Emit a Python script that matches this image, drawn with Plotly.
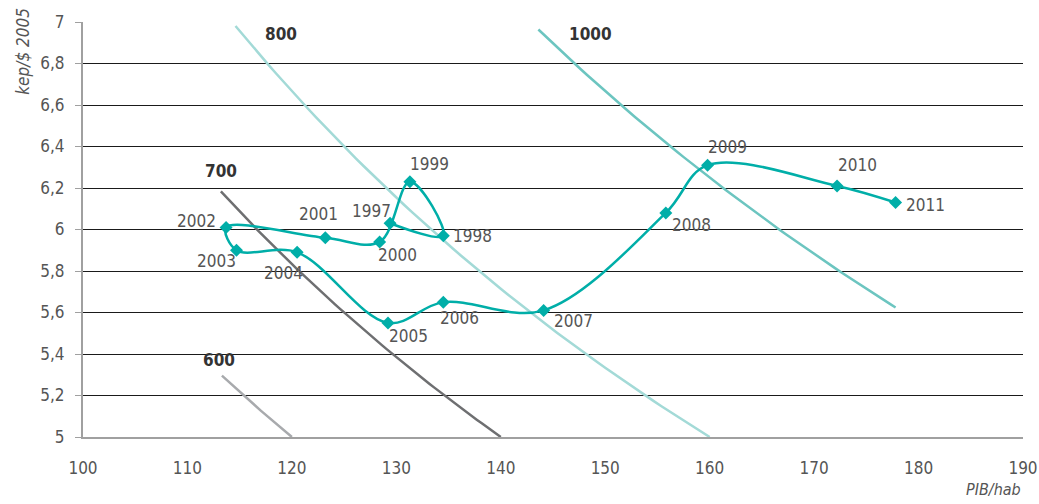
import numpy as np
import plotly.graph_objects as go

# ---- data ----
years = ["1997", "1998", "1999", "2000", "2001", "2002", "2003", "2004",
         "2005", "2006", "2007", "2008", "2009", "2010", "2011"]
pib_hab = [129.4, 134.5, 131.3, 128.4, 123.2, 113.7, 114.7, 120.5,
           129.2, 134.5, 144.1, 155.8, 159.8, 172.2, 177.8]
kep = [6.03, 5.97, 6.23, 5.94, 5.96, 6.01, 5.90, 5.89,
       5.55, 5.65, 5.61, 6.08, 6.31, 6.21, 6.13]

iso_levels = [600, 700, 800, 1000]
iso_x_start = [113.3, 113.2, 114.6, 143.6]
iso_x_end = [120.0, 140.0, 160.0, 177.8]

# ---- styles ----
FONT = "DejaVu Sans Condensed, Liberation Sans Narrow, Roboto Condensed, Roboto, sans-serif"
TEAL = "#00AEA8"
iso_colors = {600: "#A8AAAD", 700: "#6E6F71", 800: "#A3DAD7", 1000: "#6CC5C0"}
iso_label_pos = {600: (113.0, 5.37), 700: (113.2, 6.28), 800: (119.0, 6.94), 1000: (148.6, 6.94)}
label_shift = {
    "1997": (-19, 12), "1998": (29, 0), "1999": (20, 18), "2000": (18, -13),
    "2001": (-7, 24), "2002": (-30, 6), "2003": (-20, -11), "2004": (-14, -21),
    "2005": (21, -13), "2006": (16, -16), "2007": (30, -11), "2008": (26, -12),
    "2009": (20, 18), "2010": (20, 21), "2011": (30, -2),
}

fig = go.Figure()

for lvl, x0, x1 in zip(iso_levels, iso_x_start, iso_x_end):
    xs = np.linspace(x0, x1, 60)
    fig.add_trace(go.Scatter(x=xs, y=lvl / xs, mode="lines",
                             line=dict(color=iso_colors[lvl], width=2.5),
                             hoverinfo="skip", showlegend=False))
    lx, ly = iso_label_pos[lvl]
    fig.add_annotation(x=lx, y=ly, text=f"<b>{lvl}</b>", showarrow=False,
                       font=dict(family=FONT, size=17, color="#333333"))

fig.add_trace(go.Scatter(x=pib_hab, y=kep, mode="lines+markers",
                         line=dict(color=TEAL, width=2.5, shape="spline", smoothing=1.0),
                         marker=dict(symbol="diamond", size=10, color=TEAL),
                         showlegend=False))

for yr, x, y in zip(years, pib_hab, kep):
    dx, dy = label_shift[yr]
    fig.add_annotation(x=x, y=y, text=yr, showarrow=False, xshift=dx, yshift=dy,
                       font=dict(family=FONT, size=17, color="#555555"))

fig.add_annotation(xref="paper", yref="paper", x=-0.064, y=1.04, text="<i>kep/$ 2005</i>",
                   textangle=-90, showarrow=False, xanchor="center", yanchor="top",
                   font=dict(family=FONT, size=17, color="#555555"))
fig.add_annotation(xref="paper", yref="paper", x=1.0, y=-0.127, text="<i>PIB/hab</i>",
                   showarrow=False, xanchor="right", yanchor="middle",
                   font=dict(family=FONT, size=16, color="#555555"))

fig.update_layout(
    width=1039, height=504,
    margin=dict(l=83, r=16, t=22, b=67, autoexpand=False),
    paper_bgcolor="white", plot_bgcolor="white",
    font=dict(family=FONT, size=17, color="#555555"),
    separators=", ",
)
fig.update_xaxes(range=[100, 190], dtick=10, showgrid=False, zeroline=False,
                 showline=True, linecolor="#A0A0A0", linewidth=2,
                 ticks="", ticklabelstandoff=15, fixedrange=True, automargin=False)
fig.update_yaxes(range=[5, 7], dtick=0.2,
                 showgrid=True, gridcolor="#1a1a1a", gridwidth=1, zeroline=False,
                 showline=True, linecolor="#A0A0A0", linewidth=2,
                 ticks="outside", ticklen=6, tickcolor="#A0A0A0",
                 ticklabelstandoff=7, fixedrange=True, automargin=False)

fig.write_html("out.html", config={"displayModeBar": False},
               post_script="document.body.style.margin='0';")
